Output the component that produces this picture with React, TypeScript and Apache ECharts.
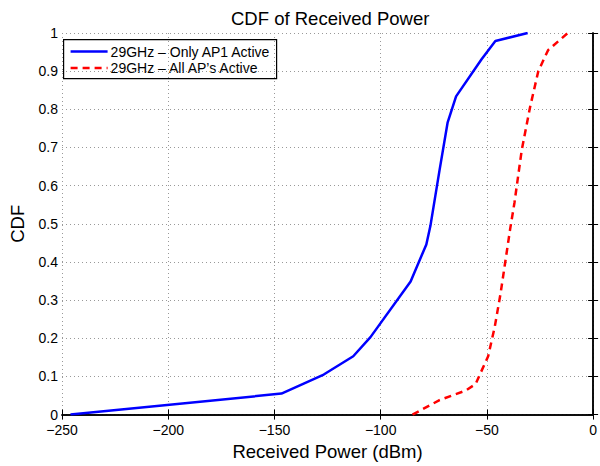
import React, { useEffect, useRef } from "react";
import * as echarts from "echarts";

const seriesNames = ["29GHz – Only AP1 Active", "29GHz – All AP’s Active"];

const onlyAP1: [number, number][] = [
  [-246, 0], [-146.7, 0.055], [-126.8, 0.105], [-112.9, 0.153], [-104.8, 0.203],
  [-85.9, 0.349], [-78.5, 0.446], [-76.6, 0.494], [-72.3, 0.64], [-68.5, 0.765],
  [-64.5, 0.834], [-52.5, 0.931], [-46, 0.979], [-30.8, 1],
];

const allAPs: [number, number][] = [
  [-85, 0], [-72.3, 0.038], [-60, 0.063], [-55.3, 0.08], [-52.9, 0.11],
  [-49.4, 0.153], [-46.3, 0.23], [-43.6, 0.316], [-41.3, 0.402], [-39, 0.488],
  [-37, 0.556], [-33.6, 0.693], [-29.7, 0.805], [-25.8, 0.9], [-21.2, 0.955],
  [-11.9, 1],
];

const FONT = "Liberation Sans, Arial, Helvetica, sans-serif";
const BLUE = "#0000ff";
const RED = "#ff0000";

export default function App() {
  const ref = useRef<HTMLDivElement>(null);
  useEffect(() => {
    if (!ref.current) return;
    const chart = echarts.init(ref.current, undefined, { renderer: "svg" });
    const axisLine = { show: true, lineStyle: { color: "#000", width: 1.5 } };
    const tick = { show: true, inside: true, length: 5, lineStyle: { color: "#000" } };
    const split = { show: true, lineStyle: { color: "#999", type: [1, 3] as any, width: 1 } };
    chart.setOption({
      animation: false,
      backgroundColor: "#fff",
      textStyle: { fontFamily: FONT },
      title: {
        text: "CDF of Received Power",
        left: 226,
        top: 4,
        textStyle: { fontSize: 18.5, fontWeight: "normal", color: "#000", fontFamily: FONT },
      },
      grid: { left: 57, right: 4, top: 33, bottom: 43, containLabel: false },
      graphic: [
        {
          type: "group",
          left: 63,
          top: 39,
          z: 100,
          children: [
            {
              type: "rect",
              shape: { x: 0, y: 0, width: 213, height: 39 },
              style: { fill: "#fff", stroke: "#000", lineWidth: 1.2 },
            },
            {
              type: "line",
              shape: { x1: 7, y1: 12, x2: 44, y2: 12 },
              style: { stroke: BLUE, lineWidth: 2.5 },
            },
            {
              type: "line",
              shape: { x1: 7, y1: 28.5, x2: 44, y2: 28.5 },
              style: { stroke: RED, lineWidth: 2.5, lineDash: [7, 5] },
            },
            {
              type: "text",
              x: 47,
              y: 12,
              style: {
                text: seriesNames[0],
                font: `14px ${FONT}`,
                fill: "#000",
                textVerticalAlign: "middle",
                verticalAlign: "middle",
              },
            },
            {
              type: "text",
              x: 47,
              y: 28.5,
              style: {
                text: seriesNames[1],
                font: `14px ${FONT}`,
                fill: "#000",
                textVerticalAlign: "middle",
                verticalAlign: "middle",
              },
            },
          ],
        },
      ],
      xAxis: [
        {
          type: "value",
          min: -250,
          max: 0,
          interval: 50,
          position: "bottom",
          axisLine,
          axisTick: tick,
          splitLine: split,
          axisLabel: {
            fontSize: 14,
            lineHeight: 13,
            color: "#000",
            margin: 9,
            formatter: (v: number) => String(v).replace("-", "−"),
          },
          name: "Received Power (dBm)",
          nameLocation: "middle",
          nameGap: 20,
          nameTextStyle: { fontSize: 18.5, color: "#000", fontFamily: FONT },
        },
        {
          type: "value",
          min: -250,
          max: 0,
          interval: 50,
          position: "top",
          axisLine,
          axisTick: tick,
          splitLine: { show: false },
          axisLabel: { show: false },
        },
      ],
      yAxis: [
        {
          type: "value",
          min: 0,
          max: 1,
          interval: 0.1,
          position: "left",
          axisLine,
          axisTick: tick,
          splitLine: split,
          axisLabel: {
            fontSize: 14,
            lineHeight: 11,
            color: "#000",
            margin: 4,
            formatter: (v: number) => (Math.round(v * 10) / 10).toString(),
          },
          name: "CDF",
          nameLocation: "middle",
          nameGap: 35,
          nameTextStyle: { fontSize: 18.5, color: "#000", fontFamily: FONT },
        },
        {
          type: "value",
          min: 0,
          max: 1,
          interval: 0.1,
          position: "right",
          axisLine,
          axisTick: tick,
          splitLine: { show: false },
          axisLabel: { show: false },
        },
      ],
      series: [
        {
          name: seriesNames[0],
          type: "line",
          data: onlyAP1,
          symbol: "none",
          lineStyle: { color: BLUE, width: 2.5, type: "solid" },
          itemStyle: { color: BLUE },
          z: 3,
        },
        {
          name: seriesNames[1],
          type: "line",
          data: allAPs,
          symbol: "none",
          lineStyle: { color: RED, width: 2.5, type: [7, 5] },
          itemStyle: { color: RED },
          z: 3,
        },
      ],
    });
    return () => chart.dispose();
  }, []);
  return (
    <div
      ref={ref}
      style={{ position: "fixed", left: 0, top: 0, width: 600, height: 466 }}
    />
  );
}
